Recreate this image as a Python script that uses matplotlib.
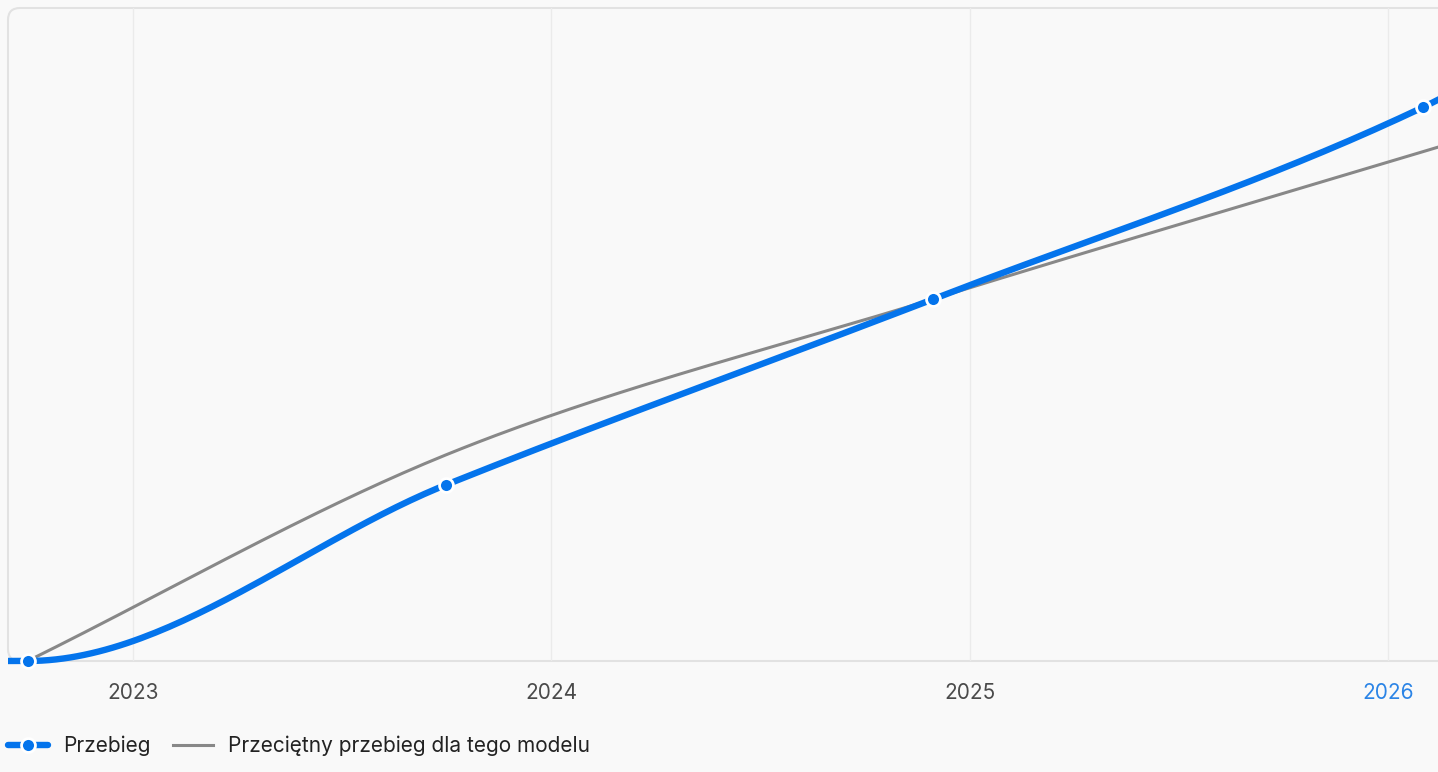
import numpy as np
import matplotlib
matplotlib.use("Agg")
import matplotlib.pyplot as plt
import matplotlib.dates as mdates
from matplotlib.lines import Line2D
from matplotlib.patches import FancyBboxPatch
from matplotlib.transforms import IdentityTransform, Bbox

plt.rcParams['font.family'] = ['Inter', 'DejaVu Sans']

# przebieg auta (km)
mileage_dates = ["2022-05-01", "2022-10-01", "2023-10-01", "2024-11-30", "2026-02-01", "2026-05-01"]
mileage_km = [0, 0, 35200, 72400, 110800, 122200]

# przeciętny przebieg dla modelu
avg_dates = ["2022-10-01", "2023-10-01", "2024-11-30", "2026-02-01", "2026-05-01"]
avg_km = [0, 41200, 72400, 101900, 108000]

years = [2023, 2024, 2025, 2026]
year_labels = ["2023", "2024", "2025", "2026"]

BLUE = "#0474ec"
GRAY = "#888888"
W, H = 1438, 772


def to_num(dates):
    return mdates.date2num(np.array(dates, dtype="datetime64[D]"))


def monotone(x, y, n=60):
    # monotone cubic, like chart.js cubicInterpolationMode='monotone'
    x = np.asarray(x, float)
    y = np.asarray(y, float)
    d = np.diff(y) / np.diff(x)
    k = len(x)
    m = np.zeros(k)
    m[0], m[-1] = d[0], d[-1]
    for i in range(1, k - 1):
        m[i] = 0 if np.sign(d[i - 1]) != np.sign(d[i]) else (d[i - 1] + d[i]) / 2
    for i in range(k - 1):
        if abs(d[i]) < 1e-12:
            m[i] = m[i + 1] = 0
            continue
        a, b = m[i] / d[i], m[i + 1] / d[i]
        s = a * a + b * b
        if s > 9:
            t = 3 / np.sqrt(s)
            m[i], m[i + 1] = a * t * d[i], b * t * d[i]
    xs, ys = [], []
    for i in range(k - 1):
        h = x[i + 1] - x[i]
        t = np.linspace(0, 1, n)
        h00 = 2 * t**3 - 3 * t**2 + 1
        h10 = t**3 - 2 * t**2 + t
        h01 = -2 * t**3 + 3 * t**2
        h11 = t**3 - t**2
        xs.append(x[i] + t * h)
        ys.append(h00 * y[i] + h10 * h * m[i] + h01 * y[i + 1] + h11 * h * m[i + 1])
    return np.concatenate(xs), np.concatenate(ys)


fig = plt.figure(figsize=(W / 100, H / 100), dpi=100, facecolor="#f9f9f9")
ax = fig.add_axes([8 / W, 111 / H, (W - 8) / W, 653 / H])
ax.set_facecolor("none")

frame = FancyBboxPatch((8, 111), 1470, 653, boxstyle="round,pad=0,rounding_size=12",
                       transform=IdentityTransform(), fc="#f9f9f9", ec="#e2e2e2", lw=1.5, zorder=-1)
fig.add_artist(frame)

tick_pos = to_num([f"{y}-01-01" for y in years])
per_px = (tick_pos[-1] - tick_pos[0]) / (1388 - 133)
ax.set_xlim(tick_pos[0] + (8 - 133) * per_px, tick_pos[0] + (W - 133) * per_px)
ax.set_ylim(0, 130600)

clip = Bbox.from_extents(8, 0, W, H - 8)

gx, gy = monotone(to_num(avg_dates), avg_km)
g, = ax.plot(gx, gy, color=GRAY, lw=2.2, solid_capstyle="round", zorder=2)
g.set_clip_box(clip)

bx, by = monotone(to_num(mileage_dates), mileage_km)
b, = ax.plot(bx, by, color=BLUE, lw=4.6, solid_capstyle="round", zorder=3)
b.set_clip_box(clip)
pts, = ax.plot(to_num(mileage_dates), mileage_km, ls="none", marker="o", ms=10,
               mfc=BLUE, mec="white", mew=2, zorder=4)
pts.set_clip_box(clip)

ax.set_xticks(tick_pos)
ax.set_xticklabels(year_labels)
ax.set_yticks([])
ax.tick_params(axis="x", length=0, pad=16, labelsize=15, labelcolor="#4a4a4a")
ax.get_xticklabels()[-1].set_color("#2b84e6")
ax.grid(axis="x", color="#ebebeb", lw=1)
for s in ax.spines.values():
    s.set_visible(False)

handles = [
    Line2D([], [], color=BLUE, lw=4.6, solid_capstyle="round", marker="o", ms=10,
           mfc=BLUE, mec="white", mew=2),
    Line2D([], [], color=GRAY, lw=2.2),
]
fig.legend(handles, ["Przebieg", "Przeciętny przebieg dla tego modelu"],
           loc="center left", bbox_to_anchor=(8 / W, 26 / H), ncol=2, frameon=False,
           fontsize=15, labelcolor="#222222", handlelength=1.92, handletextpad=0.72,
           columnspacing=1.06, borderpad=0, borderaxespad=0)

fig.savefig("out.png", dpi=100, facecolor=fig.get_facecolor())
